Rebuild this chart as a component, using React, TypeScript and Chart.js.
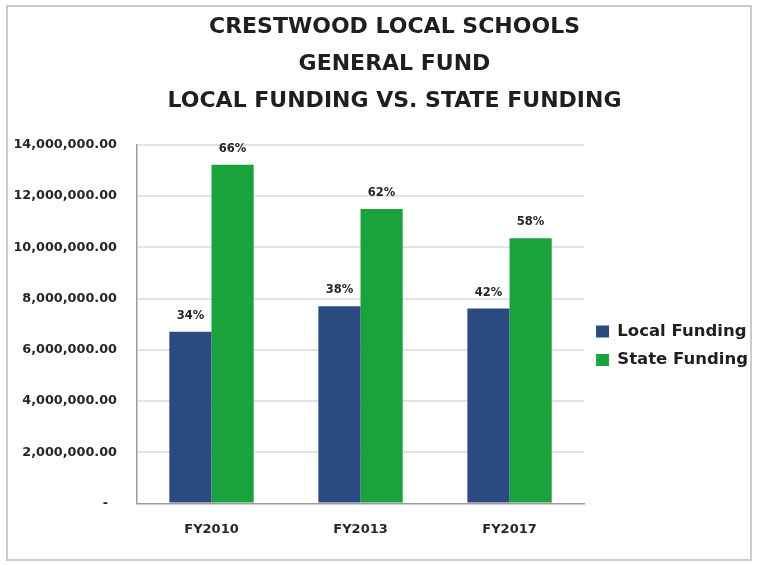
import React, { useEffect, useRef } from "react";
import { Chart, registerables } from "chart.js";

Chart.register(...registerables);

const titleLines = ["CRESTWOOD LOCAL SCHOOLS", "GENERAL FUND", "LOCAL FUNDING VS. STATE FUNDING"];
const categories = ["FY2010", "FY2013", "FY2017"];
const seriesNames = ["Local Funding", "State Funding"];
const localFunding = [6700000, 7700000, 7610000];
const stateFunding = [13220000, 11500000, 10350000];
const localPct = ["34%", "38%", "42%"];
const statePct = ["66%", "62%", "58%"];
const yTickValues = [0, 2000000, 4000000, 6000000, 8000000, 10000000, 12000000, 14000000];

const FONT = "DejaVu Sans";

const pctLabelPlugin = {
  id: "pctLabels",
  afterDatasetsDraw(chart: any) {
    const ctx = chart.ctx;
    const labels = [localPct, statePct];
    ctx.save();
    ctx.font = `bold 11.5px "${FONT}"`;
    ctx.fillStyle = "#262626";
    ctx.textAlign = "center";
    ctx.textBaseline = "middle";
    chart.data.datasets.forEach((_: any, di: number) => {
      const meta = chart.getDatasetMeta(di);
      meta.data.forEach((bar: any, i: number) => {
        ctx.fillText(labels[di][i], bar.x, bar.y - 16);
      });
    });
    ctx.restore();
  },
};

export default function App() {
  const canvasRef = useRef<HTMLCanvasElement | null>(null);

  useEffect(() => {
    if (!canvasRef.current) return;
    Chart.defaults.font.family = FONT;
    const chart = new Chart(canvasRef.current, {
      type: "bar",
      data: {
        labels: categories,
        datasets: [
          {
            label: seriesNames[0],
            data: localFunding,
            backgroundColor: "#2B4A80",
            categoryPercentage: 0.566,
            barPercentage: 1.0,
          },
          {
            label: seriesNames[1],
            data: stateFunding,
            backgroundColor: "#1AA33D",
            categoryPercentage: 0.566,
            barPercentage: 1.0,
          },
        ],
      },
      options: {
        animation: false,
        responsive: true,
        maintainAspectRatio: false,
        layout: { padding: { left: 0, top: 2, right: -8, bottom: 4 } },
        plugins: {
          title: {
            display: true,
            // leading spaces shift the centred title slightly right, as in the original
            text: titleLines.map((t) => "   " + t),
            color: "#1f1f1f",
            font: { size: 22, weight: "bold", lineHeight: 1.68 },
            padding: { top: 0, bottom: 25 },
          },
          legend: {
            position: "right",
            fullSize: false,
            title: {
              display: true,
              text: " ",
              font: { size: 12 },
              padding: { top: 29, bottom: 0 },
            },
            labels: {
              boxWidth: 13,
              boxHeight: 12,
              color: "#1f1f1f",
              font: { size: 16.5, weight: "bold" },
              padding: 12,
            },
          },
          tooltip: { enabled: false },
        },
        scales: {
          x: {
            grid: { display: false, drawTicks: false },
            border: { display: true, color: "#9a9a9a", width: 1.5 },
            ticks: {
              color: "#262626",
              font: { size: 13, weight: "bold" },
              padding: 18,
            },
          },
          y: {
            min: 0,
            max: 14000000,
            afterFit(scale: any) {
              scale.width = 129;
            },
            afterBuildTicks(scale: any) {
              scale.ticks = yTickValues.map((v) => ({ value: v }));
            },
            grid: {
              drawTicks: false,
              lineWidth: 2,
              color: (c: any) => (c.tick && c.tick.value === 0 ? "rgba(0,0,0,0)" : "#DCE4F3"),
            },
            border: { display: true, color: "#9a9a9a", width: 1.5 },
            ticks: {
              color: "#262626",
              font: { size: 12.8, weight: "bold" },
              padding: 20,
              callback: (v: any) =>
                Number(v) === 0
                  ? "-  "
                  : Number(v).toLocaleString("en-US", { minimumFractionDigits: 2, maximumFractionDigits: 2 }),
            },
          },
        },
      },
      plugins: [pctLabelPlugin],
    });
    return () => chart.destroy();
  }, []);

  return (
    <div
      style={{
        position: "absolute",
        left: 6,
        top: 5,
        width: 746,
        height: 556,
        boxSizing: "border-box",
        border: "2px solid #cbcbcb",
        background: "#fff",
      }}
    >
      <div style={{ position: "relative", width: "100%", height: "100%" }}>
        <canvas ref={canvasRef} />
      </div>
    </div>
  );
}
